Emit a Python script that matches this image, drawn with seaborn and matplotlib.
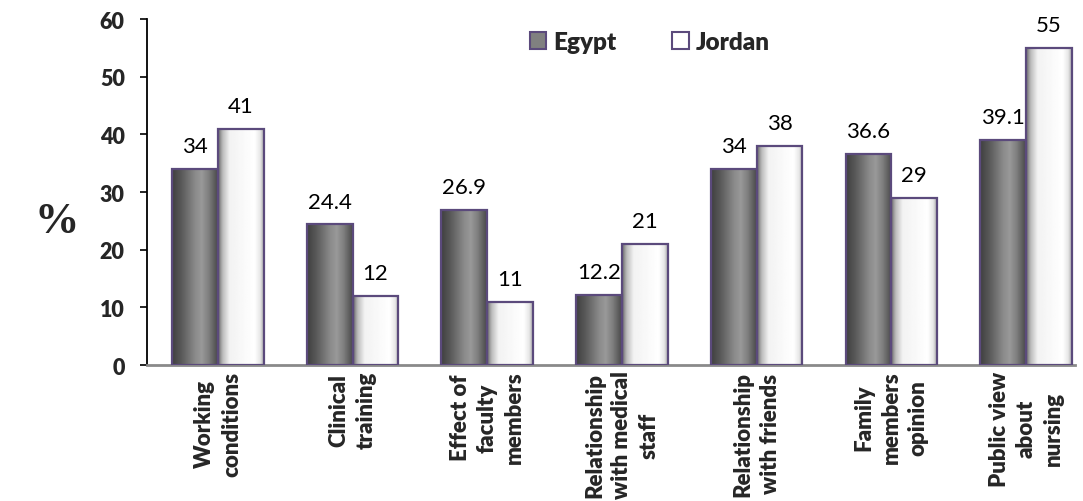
import numpy as np
import pandas as pd
import seaborn as sns
import matplotlib.pyplot as plt
from matplotlib.patches import Patch

# datos
categorias = ["Working\nconditions", "Clinical\ntraining", "Effect of\nfaculty\nmembers",
              "Relationship\nwith medical\nstaff", "Relationship\nwith friends",
              "Family\nmembers\nopinion", "Public view\nabout\nnursing"]
egypt = [34, 24.4, 26.9, 12.2, 34, 36.6, 39.1]
jordan = [41, 12, 11, 21, 38, 29, 55]
paises = ["Egypt", "Jordan"]
yticks = [0, 10, 20, 30, 40, 50, 60]

df = pd.DataFrame({
    "cat": categorias * 2,
    "pais": [paises[0]] * len(egypt) + [paises[1]] * len(jordan),
    "val": egypt + jordan,
})

sns.set_style("white")
plt.rcParams["font.family"] = ["Lato", "DejaVu Sans"]

fig = plt.figure(figsize=(10.83, 5.02), dpi=100)
ax = fig.add_axes([0.1357, 0.2709, 0.8569, 0.6892])

borde = "#5b4a7c"
sns.barplot(data=df, x="cat", y="val", hue="pais",
            palette={"Egypt": "#808080", "Jordan": "#ffffff"},
            width=0.68, saturation=1, edgecolor=borde, linewidth=1.6,
            legend=False, ax=ax)

# degradado horizontal de cada barra (efecto cilindro de Excel)
xs = np.linspace(0, 1, 64)
grad = {
    0: np.interp(xs, [0, .2, .5, .65, .8, 1], [.25, .35, .54, .6, .5, .29]),
    1: np.interp(xs, [0, .1, .25, .8, .92, 1], [.43, .74, .95, 1, .91, .69]),
}
for i, cont in enumerate(ax.containers):
    for p in cont.patches:
        x0, w, h = p.get_x(), p.get_width(), p.get_height()
        im = ax.imshow(grad[i][None, :], cmap="gray", vmin=0, vmax=1,
                       extent=[x0, x0 + w, 0, h], aspect="auto",
                       interpolation="bilinear", zorder=2)
        im.set_clip_path(p)
        p.set_facecolor("none")
        p.set_zorder(3)
    ax.bar_label(cont, fmt="{:g}", padding=9, fontsize=16, color="black")

ax.set_aspect("auto")
ax.set_xlim(-0.527, 6.364)
ax.set_ylim(0, 60)

ax.set_yticks(yticks)
ax.set_yticklabels([str(t) for t in yticks], fontweight="heavy", fontsize=15.5)
ax.tick_params(axis="y", left=True, length=5, width=1.2, color="black", pad=11)

ax.set_xticks(range(len(categorias)))
ax.set_xticklabels(categorias, rotation=90, fontweight="heavy", fontsize=16,
                   ha="center", va="top", multialignment="center", linespacing=1.35)
ax.tick_params(axis="x", bottom=False, length=0, pad=4)

ax.set_xlabel("")
ax.set_ylabel("")
ax.spines[["top", "right"]].set_visible(False)
ax.spines["left"].set_color("black")
ax.spines["left"].set_linewidth(1.3)
ax.spines["bottom"].set_color("#8a8a8a")
ax.spines["bottom"].set_linewidth(2)

fig.text(57 / 1083, 1 - 222 / 502, "%", family="Liberation Serif", weight="bold",
         fontsize=32, ha="center", va="center")

handles = [Patch(facecolor="#808080", edgecolor=borde, lw=1.5, label=paises[0]),
           Patch(facecolor="white", edgecolor=borde, lw=1.5, label=paises[1])]
fig.legend(handles=handles, ncol=2, frameon=False, loc="center left",
           bbox_to_anchor=(530 / 1083, 1 - 43 / 502),
           prop={"weight": "heavy", "size": 17.5}, handlelength=0.66, handleheight=0.66,
           handletextpad=0.3, columnspacing=2.3, borderpad=0, borderaxespad=0)

plt.savefig("out.png", dpi=100)
